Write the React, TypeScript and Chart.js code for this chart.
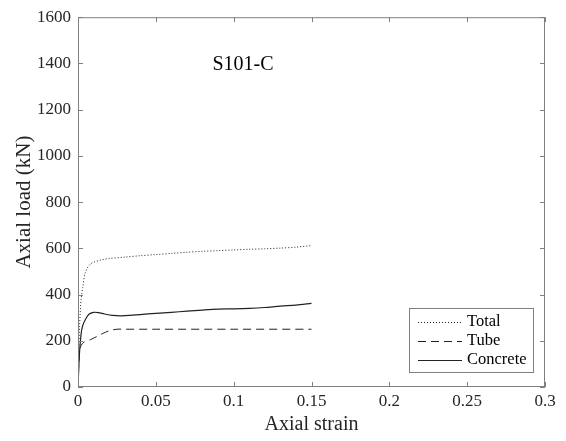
import React, { useEffect, useRef } from "react";
import { Chart, registerables } from "chart.js";

Chart.register(...registerables);

const totalStrain = [0, 0.0005, 0.001, 0.0015, 0.002, 0.003, 0.0045, 0.006, 0.008, 0.01, 0.015, 0.02, 0.03, 0.04, 0.05, 0.06, 0.07, 0.08, 0.09, 0.1, 0.11, 0.12, 0.13, 0.14, 0.15];
const totalLoad = [0, 150, 260, 330, 380, 430, 490, 515, 532, 540, 550, 556, 562, 568, 573, 578, 583, 587, 590, 593, 596, 598, 601, 605, 612];

const tubeStrain = [0, 0.0005, 0.001, 0.002, 0.004, 0.008, 0.012, 0.016, 0.02, 0.025, 0.03, 0.05, 0.1, 0.15];
const tubeLoad = [0, 100, 150, 180, 195, 205, 218, 232, 243, 250, 250, 250, 250, 250];

const concreteStrain = [0, 0.0005, 0.001, 0.002, 0.003, 0.005, 0.007, 0.01, 0.013, 0.017, 0.022, 0.028, 0.035, 0.045, 0.06, 0.07, 0.08, 0.09, 0.1, 0.11, 0.12, 0.13, 0.14, 0.15];
const concreteLoad = [0, 80, 150, 230, 265, 295, 315, 323, 322, 316, 310, 308, 311, 316, 323, 328, 333, 337, 338, 340, 344, 350, 354, 362];

const xTicks = [0, 0.05, 0.1, 0.15, 0.2, 0.25, 0.3];
const yTicks = [0, 200, 400, 600, 800, 1000, 1200, 1400, 1600];
const seriesNames = ["Total", "Tube", "Concrete"];
const specimenLabel = "S101-C";

const FONT = "'Liberation Serif', 'Times New Roman', serif";
const AXIS_COLOR = "#808080";
const TEXT_COLOR = "#262626";
const LINE_COLOR = "#222222";

const toPts = (xs: number[], ys: number[]) => xs.map((x, i) => ({ x, y: ys[i] }));

const dashes: number[][] = [[1, 2], [8, 5], []];

const decorPlugin = {
  id: "decor",
  afterDraw(chart: any) {
    const { ctx, chartArea: a, scales } = chart;
    const xs = scales.x;
    const ys = scales.y;
    ctx.save();
    ctx.strokeStyle = AXIS_COLOR;
    ctx.lineWidth = 1;
    ctx.setLineDash([]);
    ctx.strokeRect(a.left + 0.5, a.top + 0.5, a.right - a.left - 1, a.bottom - a.top - 1);
    const tl = 5;
    ctx.beginPath();
    xTicks.forEach((t) => {
      const px = Math.round(xs.getPixelForValue(t)) + 0.5;
      ctx.moveTo(px, a.bottom);
      ctx.lineTo(px, a.bottom - tl);
      ctx.moveTo(px, a.top);
      ctx.lineTo(px, a.top + tl);
    });
    yTicks.forEach((t) => {
      const py = Math.round(ys.getPixelForValue(t)) + 0.5;
      ctx.moveTo(a.left, py);
      ctx.lineTo(a.left + tl, py);
      ctx.moveTo(a.right, py);
      ctx.lineTo(a.right - tl, py);
    });
    ctx.stroke();

    ctx.fillStyle = "#000";
    ctx.font = `20px ${FONT}`;
    ctx.textAlign = "center";
    ctx.textBaseline = "middle";
    ctx.fillText(specimenLabel, 243, 65);

    const lx = 409, ly = 308, lw = 124, lh = 64;
    ctx.fillStyle = "#fff";
    ctx.fillRect(lx, ly, lw, lh);
    ctx.strokeStyle = AXIS_COLOR;
    ctx.strokeRect(lx + 0.5, ly + 0.5, lw, lh);
    ctx.font = `16.5px ${FONT}`;
    ctx.textAlign = "left";
    ctx.textBaseline = "middle";
    seriesNames.forEach((name, i) => {
      const yy = ly + 14 + i * 19;
      ctx.strokeStyle = LINE_COLOR;
      ctx.lineWidth = 1;
      ctx.setLineDash(dashes[i]);
      ctx.beginPath();
      ctx.moveTo(418, yy + 0.5);
      ctx.lineTo(462, yy + 0.5);
      ctx.stroke();
      ctx.setLineDash([]);
      ctx.fillStyle = "#000";
      ctx.fillText(name, 467, yy);
    });
    ctx.restore();
  },
};

export default function App() {
  const ref = useRef<HTMLCanvasElement>(null);
  useEffect(() => {
    document.body.style.margin = "0";
    const canvas = ref.current!;
    const chart = new Chart(canvas, {
      type: "scatter",
      data: {
        datasets: [
          { label: seriesNames[0], data: toPts(totalStrain, totalLoad), showLine: true, borderColor: LINE_COLOR, borderWidth: 1, borderDash: dashes[0], pointRadius: 0, tension: 0.3 },
          { label: seriesNames[1], data: toPts(tubeStrain, tubeLoad), showLine: true, borderColor: LINE_COLOR, borderWidth: 1, borderDash: dashes[1], pointRadius: 0, tension: 0.3 },
          { label: seriesNames[2], data: toPts(concreteStrain, concreteLoad), showLine: true, borderColor: LINE_COLOR, borderWidth: 1.2, borderDash: dashes[2], pointRadius: 0, tension: 0.3 },
        ],
      },
      options: {
        responsive: false,
        animation: false,
        layout: { padding: { left: 0, top: 15, right: 21, bottom: 0 } },
        plugins: { legend: { display: false }, tooltip: { enabled: false } },
        scales: {
          x: {
            type: "linear",
            min: 0,
            max: 0.3,
            afterBuildTicks: (s: any) => { s.ticks = xTicks.map((v) => ({ value: v })); },
            afterFit: (s: any) => { s.height = 54; },
            grid: { display: false, drawTicks: false },
            border: { display: false },
            ticks: { color: TEXT_COLOR, font: { family: FONT, size: 17 }, padding: 4, maxRotation: 0, callback: (v: any) => String(v) },
            title: { display: true, text: "Axial strain", color: TEXT_COLOR, font: { family: FONT, size: 20 }, padding: { top: -3 } },
          },
          y: {
            type: "linear",
            min: 0,
            max: 1600,
            afterBuildTicks: (s: any) => { s.ticks = yTicks.map((v) => ({ value: v })); },
            afterFit: (s: any) => { s.width = 78; },
            grid: { display: false, drawTicks: false },
            border: { display: false },
            ticks: { color: TEXT_COLOR, font: { family: FONT, size: 17 }, padding: 7, callback: (v: any) => String(v) },
            title: { display: true, text: "Axial load (kN)", color: TEXT_COLOR, font: { family: FONT, size: 21 }, padding: { top: 12, bottom: 0 } },
          },
        },
      },
      plugins: [decorPlugin],
    });
    return () => chart.destroy();
  }, []);
  return <canvas ref={ref} width={566} height={441} style={{ display: "block" }} />;
}
